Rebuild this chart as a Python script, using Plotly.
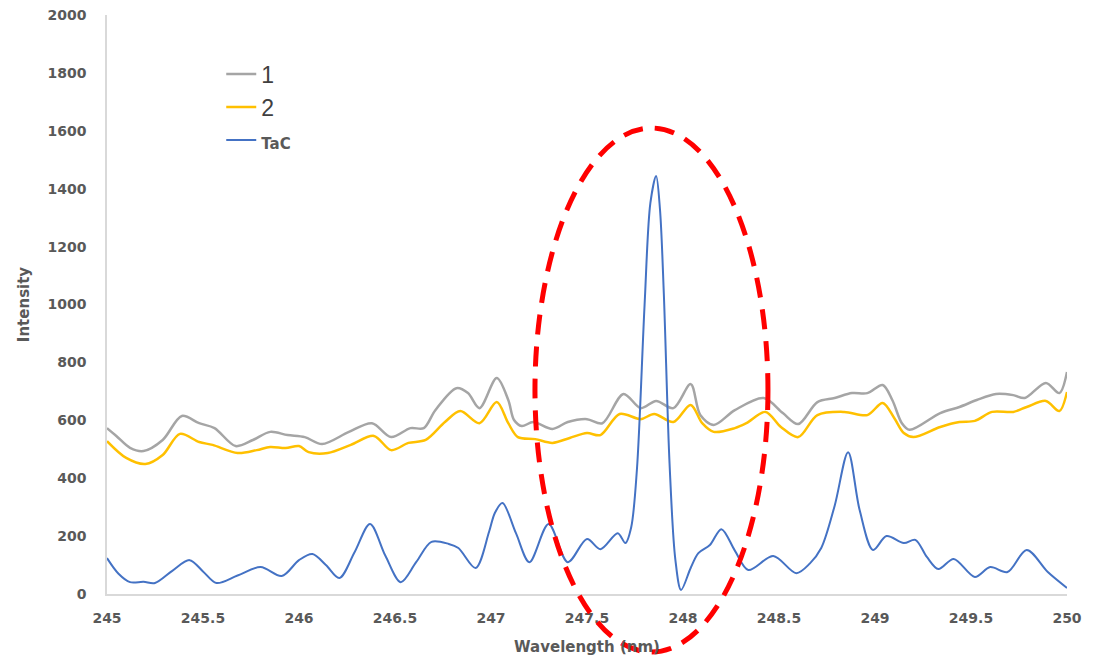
import plotly.graph_objects as go

# Sample 1 spectrum
wl_1 = [245.00, 245.05, 245.12, 245.19, 245.29, 245.39, 245.48, 245.56, 245.67, 245.76,
        245.85, 245.94, 246.03, 246.12, 246.26, 246.38, 246.48, 246.58, 246.65, 246.71,
        246.82, 246.88, 246.94, 247.03, 247.09, 247.12, 247.16, 247.22, 247.32, 247.40,
        247.50, 247.58, 247.69, 247.78, 247.86, 247.95, 248.04, 248.09, 248.16, 248.27,
        248.42, 248.52, 248.60, 248.70, 248.79, 248.88, 248.96, 249.04, 249.09, 249.14,
        249.18, 249.34, 249.44, 249.53, 249.63, 249.72, 249.78, 249.89, 249.96, 250.00]
int_1 = [573, 545, 505, 494, 532, 615, 590, 573, 511, 532,
         560, 549, 542, 518, 560, 590, 542, 573, 573, 635,
         711, 694, 642, 746, 670, 601, 580, 594, 570, 594,
         604, 590, 691, 642, 667, 642, 725, 618, 584, 635,
         677, 625, 587, 663, 677, 694, 694, 722, 670, 590,
         567, 625, 646, 670, 691, 687, 677, 729, 694, 767]

# Sample 2 spectrum
wl_2 = [245.00, 245.10, 245.20, 245.29, 245.38, 245.48, 245.55, 245.68, 245.78, 245.85,
        245.93, 246.00, 246.05, 246.15, 246.27, 246.39, 246.48, 246.57, 246.66, 246.76,
        246.84, 246.94, 247.03, 247.09, 247.14, 247.23, 247.32, 247.41, 247.50, 247.57,
        247.67, 247.78, 247.85, 247.95, 248.04, 248.10, 248.16, 248.27, 248.33, 248.43,
        248.51, 248.60, 248.70, 248.84, 248.96, 249.04, 249.10, 249.15, 249.20, 249.34,
        249.44, 249.52, 249.61, 249.72, 249.79, 249.89, 249.96, 250.00]
int_2 = [528, 470, 449, 480, 553, 525, 515, 487, 497, 508,
         504, 511, 490, 487, 515, 546, 497, 522, 532, 594,
         632, 590, 663, 590, 542, 535, 522, 539, 556, 549,
         622, 604, 622, 594, 653, 590, 560, 573, 590, 629,
         577, 542, 618, 629, 618, 660, 608, 556, 542, 577,
         594, 598, 629, 629, 646, 667, 632, 698]

# TaC reference spectrum
wl_tac = [245.00, 245.06, 245.12, 245.19, 245.25, 245.34, 245.43, 245.50, 245.57, 245.68,
          245.80, 245.91, 246.00, 246.07, 246.14, 246.21, 246.29, 246.37, 246.45, 246.53,
          246.61, 246.69, 246.78, 246.83, 246.92, 246.99, 247.02, 247.06, 247.13, 247.20,
          247.30, 247.40, 247.50, 247.57, 247.66, 247.70, 247.73, 247.76, 247.80, 247.83,
          247.86, 247.88, 247.90, 247.93, 247.96, 247.99, 248.04, 248.08, 248.14, 248.20,
          248.27, 248.34, 248.47, 248.59, 248.66, 248.72, 248.79, 248.86, 248.92, 248.99,
          249.06, 249.15, 249.21, 249.27, 249.33, 249.41, 249.52, 249.60, 249.69, 249.79,
          249.90, 250.00]
int_tac = [124, 70, 41, 42, 38, 80, 117, 78, 38, 64,
           93, 62, 117, 138, 100, 55, 145, 242, 132, 41,
           110, 180, 173, 159, 90, 215, 280, 314, 210, 110,
           242, 110, 190, 155, 210, 176, 230, 430, 1000, 1350,
           1444, 1330, 1040, 450, 120, 14, 90, 141, 169, 224,
           150, 83, 131, 72, 105, 159, 305, 490, 290, 152,
           200, 176, 187, 128, 86, 121, 59, 93, 76, 152,
           76, 21]

x_ticks = [245, 245.5, 246, 246.5, 247, 247.5, 248, 248.5, 249, 249.5, 250]
y_ticks = [0, 200, 400, 600, 800, 1000, 1200, 1400, 1600, 1800, 2000]

label_font = "DejaVu Sans, Open Sans, sans-serif"
big_name = '<span style="font-size:23px;font-family:Liberation Sans, Arial, sans-serif;fill:#404040;">{}</span>'
small_name = '<span style="font-size:15px;font-weight:bold;font-family:DejaVu Sans, sans-serif;fill:#595959;">{}</span>'

fig = go.Figure()
fig.add_trace(go.Scatter(x=wl_1, y=int_1, mode="lines", name=big_name.format("1"),
                         line=dict(color="#A5A5A5", width=2.5, shape="spline", smoothing=0.9)))
fig.add_trace(go.Scatter(x=wl_2, y=int_2, mode="lines", name=big_name.format("2"),
                         line=dict(color="#FFC000", width=2.5, shape="spline", smoothing=0.9)))
fig.add_trace(go.Scatter(x=wl_tac, y=int_tac, mode="lines", name=small_name.format("TaC"),
                         line=dict(color="#4472C4", width=2, shape="spline", smoothing=0.9)))

# Dashed ellipse highlighting the TaC line near 247.85 nm
fig.add_shape(type="circle", xref="paper", yref="paper",
              x0=0.4458, x1=0.6885, y0=-0.1002, y1=0.8048,
              line=dict(color="#FF0000", width=5, dash="20px,12px"),
              layer="above")

fig.update_layout(
    width=1109, height=660,
    margin=dict(l=107, r=42, t=15, b=66, autoexpand=False),
    paper_bgcolor="white", plot_bgcolor="white",
    font=dict(family=label_font, color="#595959"),
    showlegend=True,
    legend=dict(x=0.119, y=0.935, xanchor="left", yanchor="top",
                bgcolor="rgba(0,0,0,0)", font=dict(size=23, color="#404040"),
                traceorder="normal"),
    xaxis=dict(range=[245, 250], tickvals=x_ticks, ticktext=[f"{v:g}" for v in x_ticks],
               automargin=False,
               showgrid=False, zeroline=False, showline=True, linecolor="#D9D9D9", linewidth=1.5,
               ticks="", tickfont=dict(size=14, color="#595959", family=label_font, weight="bold"),
               ticklabelstandoff=10,
               title=dict(text="Wavelength (nm)", standoff=17,
                          font=dict(size=15, color="#595959", family=label_font, weight="bold"))),
    yaxis=dict(range=[0, 2000], tickvals=y_ticks, automargin=False,
               showgrid=False, zeroline=False, showline=True, linecolor="#D9D9D9", linewidth=1.5,
               ticks="", tickfont=dict(size=14, color="#595959", family=label_font, weight="bold"),
               ticklabelstandoff=16,
               title=dict(text="Intensity", standoff=14,
                          font=dict(size=15, color="#595959", family=label_font, weight="bold"))),
)

fig.write_html("out.html")
